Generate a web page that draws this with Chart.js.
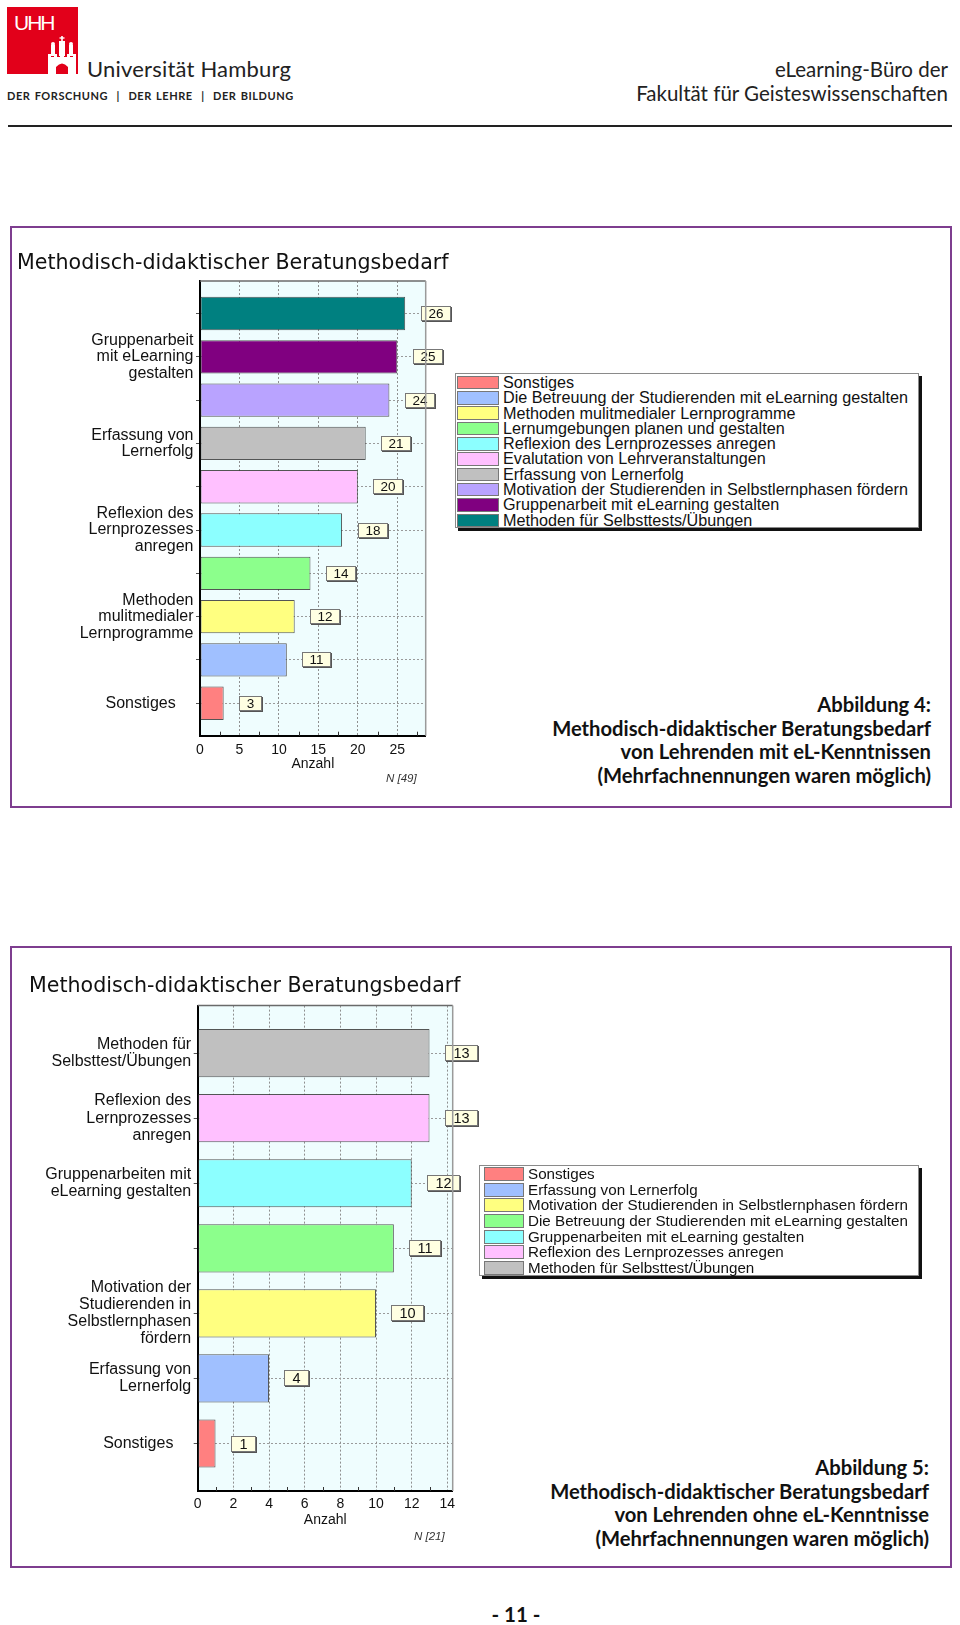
<!DOCTYPE html>
<html lang="de">
<head>
<meta charset="utf-8">
<title>Methodisch-didaktischer Beratungsbedarf</title>
<script src="https://cdn.jsdelivr.net/npm/chart.js@4.4.1/dist/chart.umd.min.js"></script>
<style>
  html, body { margin: 0; padding: 0; background: #fff; }
  body { position: relative; width: 960px; height: 1625px; overflow: hidden; font-family: 'Liberation Sans', Arial, sans-serif; color: #111; }
  .abs { position: absolute; }
  .logo { left: 7px; top: 7px; width: 71px; height: 67px; background: #e2001a; }
  .uhh { left: 7px; top: 4px; color: #fff; font: 21px 'Liberation Sans', Arial, sans-serif; letter-spacing: -2px; line-height: 24px; }
  .uni { left: 87px; top: 56px; font: 22px Lato, 'Open Sans', sans-serif; line-height: 26px; color: #222; letter-spacing: 0.2px; }
  .motto { left: 7px; top: 88px; font: bold 11px Lato, 'Open Sans', sans-serif; line-height: 15px; color: #222; letter-spacing: 0.55px; word-spacing: 1px; }
  .rhead { right: 12px; top: 57px; text-align: right; font: 20.5px Lato, 'Open Sans', sans-serif; line-height: 24px; color: #222; }
  .rule { left: 8px; top: 125px; width: 944px; height: 2px; background: #222; }
  .frame { border: 2px solid #7e3d8f; box-sizing: border-box; }
  .caption { text-align: right; font: bold 20.2px Lato, 'Open Sans', sans-serif; line-height: 23.5px; color: #111; }
  .nlab { font: italic 11.5px 'Liberation Sans', Arial, sans-serif; color: #333; line-height: 14px; }
  .legend { background: #fff; border: 1px solid #8a8a8a; box-shadow: 3px 3px 0 #111; box-sizing: border-box; }
  .legend .row { display: flex; align-items: center; white-space: nowrap; }
  .legend .sw { display: inline-block; box-sizing: border-box; border: 1px solid #777; flex: none; }
  .pagenum { left: 436px; width: 160px; top: 1602px; text-align: center; font: bold 20.5px Lato, 'Open Sans', sans-serif; line-height: 24px; color: #111; }
  canvas { position: absolute; }
</style>
</head>
<body>
<!-- header -->
<div class="abs logo">
  <div class="abs uhh">UHH</div>
  <svg class="abs" style="left:0;top:0" width="71" height="67" viewBox="0 0 71 67">
    <g fill="#fff">
      <rect x="44" y="38" width="4" height="11"/>
      <rect x="52" y="34" width="6" height="15"/>
      <rect x="54.2" y="29" width="1.6" height="5"/>
      <rect x="52.5" y="30.3" width="5" height="1.4"/>
      <rect x="62" y="38" width="4" height="11"/>
      <circle cx="46" cy="37" r="2"/>
      <circle cx="64" cy="37" r="2"/>
      <rect x="41" y="50" width="28" height="17"/>
      <rect x="41" y="47" width="3" height="3"/><rect x="47" y="47" width="3" height="3"/>
      <rect x="53" y="47" width="4" height="3"/><rect x="60" y="47" width="3" height="3"/><rect x="66" y="47" width="3" height="3"/>
    </g>
    <path d="M49 67 L49 60 Q55 53 61 60 L61 67 Z" fill="#e2001a"/>
  </svg>
</div>
<div class="abs uni">Universität Hamburg</div>
<div class="abs motto">DER FORSCHUNG&nbsp; | &nbsp;DER LEHRE&nbsp; | &nbsp;DER BILDUNG</div>
<div class="abs rhead">eLearning-Büro der<br>Fakultät für Geisteswissenschaften</div>
<div class="abs rule"></div>

<!-- figure 4 -->
<div class="abs frame" style="left:10px;top:226px;width:942px;height:582px;"></div>
<canvas id="c1" width="440" height="560" style="left:12px;top:229px;"></canvas>
<div class="abs legend" id="lg1" style="left:455px;top:373px;width:464px;height:155px;padding:1px 0 0 1px;"></div>
<div class="abs nlab" style="left:386px;top:771px;">N [49]</div>
<div class="abs caption" style="right:29px;top:693px;">Abbildung 4:<br>Methodisch-didaktischer Beratungsbedarf<br>von Lehrenden mit eL-Kenntnissen<br>(Mehrfachnennungen waren möglich)</div>

<!-- figure 5 -->
<div class="abs frame" style="left:10px;top:946px;width:942px;height:622px;"></div>
<canvas id="c2" width="470" height="600" style="left:12px;top:950px;"></canvas>
<div class="abs legend" id="lg2" style="left:479px;top:1165px;width:440px;height:111px;padding:0 0 0 4px;"></div>
<div class="abs nlab" style="left:414px;top:1529px;">N [21]</div>
<div class="abs caption" style="right:31px;top:1456px;">Abbildung 5:<br>Methodisch-didaktischer Beratungsbedarf<br>von Lehrenden ohne eL-Kenntnisse<br>(Mehrfachnennungen waren möglich)</div>

<div class="abs pagenum">- 11 -</div>

<script>
// ---------- data: figure 4 (Lehrende mit eL-Kenntnissen) ----------
const title1 = 'Methodisch-didaktischer Beratungsbedarf';
const categories1 = [
  'Methoden für Selbsttests/Übungen',
  'Gruppenarbeit mit eLearning gestalten',
  'Motivation der Studierenden in Selbstlernphasen fördern',
  'Erfassung von Lernerfolg',
  'Evalutation von Lehrveranstaltungen',
  'Reflexion des Lernprozesses anregen',
  'Lernumgebungen planen und gestalten',
  'Methoden mulitmedialer Lernprogramme',
  'Die Betreuung der Studierenden mit eLearning gestalten',
  'Sonstiges'
];
const values1 = [26, 25, 24, 21, 20, 18, 14, 12, 11, 3];
const colors1 = ['#008080', '#800080', '#b9a3ff', '#c0c0c0', '#ffc0ff', '#8cffff', '#8cff8c', '#ffff80', '#a0c0ff', '#ff8080'];
const tickLabels1 = [
  '',
  ['Gruppenarbeit', 'mit eLearning', 'gestalten'],
  '',
  ['Erfassung von', 'Lernerfolg'],
  '',
  ['Reflexion des', 'Lernprozesses', 'anregen'],
  '',
  ['Methoden', 'mulitmedialer', 'Lernprogramme'],
  '',
  'Sonstiges'
];
const xTicks1 = { max: 28.6, step: 5 };
const xTitle1 = 'Anzahl';

// ---------- data: figure 5 (Lehrende ohne eL-Kenntnisse) ----------
const title2 = 'Methodisch-didaktischer Beratungsbedarf';
const categories2 = [
  'Methoden für Selbsttest/Übungen',
  'Reflexion des Lernprozesses anregen',
  'Gruppenarbeiten mit eLearning gestalten',
  'Die Betreuung der Studierenden mit eLearning gestalten',
  'Motivation der Studierenden in Selbstlernphasen fördern',
  'Erfassung von Lernerfolg',
  'Sonstiges'
];
const values2 = [13, 13, 12, 11, 10, 4, 1];
const colors2 = ['#c0c0c0', '#ffc0ff', '#8cffff', '#8cff8c', '#ffff80', '#a0c0ff', '#ff8080'];
const tickLabels2 = [
  ['Methoden für', 'Selbsttest/Übungen'],
  ['Reflexion des', 'Lernprozesses', 'anregen'],
  ['Gruppenarbeiten mit', 'eLearning gestalten'],
  '',
  ['Motivation der', 'Studierenden in', 'Selbstlernphasen', 'fördern'],
  ['Erfassung von', 'Lernerfolg'],
  'Sonstiges'
];
const xTicks2 = { max: 14.3, step: 2 };
const xTitle2 = 'Anzahl';

// ---------- plugins ----------
const plotFrame = {
  id: 'plotFrame',
  beforeDraw(chart) {
    const { ctx, chartArea: a } = chart;
    ctx.save();
    ctx.fillStyle = '#effdfe';
    ctx.fillRect(a.left, a.top, a.right - a.left, a.bottom - a.top);
    ctx.restore();
  },
  afterDraw(chart, args, opts) {
    const { ctx, chartArea: a } = chart;
    ctx.save();
    ctx.strokeStyle = '#6a6a6a';
    ctx.lineWidth = 1.5;
    ctx.beginPath();
    ctx.moveTo(a.left, a.top);
    ctx.lineTo(a.right, a.top);
    ctx.stroke();
    ctx.strokeStyle = '#9a9a9a';
    ctx.beginPath();
    ctx.moveTo(a.right, a.top);
    ctx.lineTo(a.right, a.bottom);
    ctx.stroke();
    // minor tick marks on the value axis (half a major step)
    const xs = chart.scales.x;
    const step = opts.step;
    ctx.strokeStyle = '#333';
    ctx.lineWidth = 1;
    ctx.beginPath();
    for (let v = step / 2; v < xs.max; v += step) {
      const px = Math.round(xs.getPixelForValue(v)) + 0.5;
      ctx.moveTo(px, a.bottom);
      ctx.lineTo(px, a.bottom - 4);
    }
    ctx.stroke();
    ctx.restore();
  }
};

const valueBoxes = {
  id: 'valueBoxes',
  afterDatasetsDraw(chart, args, opts) {
    const { ctx } = chart;
    const meta = chart.getDatasetMeta(0);
    const ds = chart.data.datasets[0];
    ctx.save();
    ctx.font = opts.size + 'px "Liberation Sans", Arial, sans-serif';
    meta.data.forEach((bar, i) => {
      const txt = String(ds.data[i].x);
      const w = Math.round(ctx.measureText(txt).width + 2 * opts.padX);
      const h = opts.h;
      const x = Math.round(bar.x + opts.gap);
      const y = Math.round(bar.y - h / 2);
      ctx.fillStyle = '#555';
      ctx.fillRect(x + 1, y + 1, w, h);
      ctx.fillStyle = '#ffffe2';
      ctx.fillRect(x, y, w, h);
      ctx.strokeStyle = '#777';
      ctx.lineWidth = 1;
      ctx.strokeRect(x + 0.5, y + 0.5, w - 1, h - 1);
      ctx.fillStyle = '#111';
      ctx.textAlign = 'center';
      ctx.textBaseline = 'middle';
      ctx.fillText(txt, x + w / 2, y + h / 2 + 0.5);
    });
    ctx.restore();
  }
};

const FONT = "'Liberation Sans', Arial, sans-serif";

function makeChart(id, cfg) {
  const n = cfg.values.length;
  return new Chart(document.getElementById(id), {
    type: 'bar',
    plugins: [plotFrame, valueBoxes],
    data: {
      datasets: [{
        data: cfg.values.map((v, i) => ({ x: v, y: i })),
        backgroundColor: cfg.colors,
        borderColor: 'rgba(55,55,55,0.85)',
        borderWidth: 1,
        borderSkipped: false,
        categoryPercentage: 1,
        barPercentage: cfg.barPct
      }]
    },
    options: {
      indexAxis: 'y',
      responsive: false,
      animation: false,
      devicePixelRatio: 1,
      layout: { padding: cfg.pad },
      plugins: {
        legend: { display: false },
        tooltip: { enabled: false },
        title: {
          display: true,
          text: cfg.title,
          align: 'start',
          color: '#111',
          font: { family: "'DejaVu Sans', Verdana, sans-serif", size: 20.6, weight: 'normal', lineHeight: 1.2 },
          padding: cfg.titlePad
        },
        plotFrame: { step: cfg.xTicks.step },
        valueBoxes: cfg.boxes
      },
      scales: {
        x: {
          type: 'linear',
          position: 'bottom',
          min: 0,
          max: cfg.xTicks.max,
          afterFit: s => { s.height = 40; },
          ticks: { stepSize: cfg.xTicks.step, includeBounds: false, padding: cfg.xTickPad, color: '#111', font: { family: FONT, size: 14 }, maxRotation: 0 },
          grid: { color: '#8f8f8f', lineWidth: 1, drawTicks: false },
          border: { display: true, color: '#000', width: 2, dash: [2, 2] },
          title: { display: true, text: cfg.xTitle, color: '#111', font: { family: FONT, size: 14 }, padding: { top: 0, bottom: cfg.xTitlePadB } }
        },
        y: {
          type: 'linear',
          position: 'left',
          reverse: true,
          offset: false,
          min: -cfg.edge,
          max: n - 1 + cfg.edge,
          afterBuildTicks: s => { s.ticks = cfg.values.map((_, i) => ({ value: i })); },
          afterFit: s => { s.width = cfg.yWidth; },
          ticks: {
            autoSkip: false,
            padding: 2.5,
            color: '#111',
            font: { family: FONT, size: 16, lineHeight: cfg.yLineHeight },
            callback: v => {
              const l = cfg.tickLabels[v];
              return (typeof l === 'string' && l) ? l + '    ' : l;
            }
          },
          grid: { offset: false, color: '#9a9a9a', lineWidth: 1, drawTicks: true, tickLength: 4, tickColor: '#555', tickWidth: 1 },
          border: { display: true, color: '#000', width: 2, dash: [2, 2] }
        },
        // empty spacer on the right, so the plot ends where the original does
        spacer: {
          type: 'linear',
          position: 'right',
          display: true,
          grid: { display: false, drawTicks: false },
          ticks: { display: false },
          border: { display: false },
          afterFit: s => { s.width = cfg.rightGap; }
        }
      }
    }
  });
}

makeChart('c1', {
  values: values1, colors: colors1, tickLabels: tickLabels1, title: title1,
  xTicks: xTicks1, xTitle: xTitle1,
  barPct: 0.77, edge: 0.75,
  pad: { left: 5, right: 0, top: 0, bottom: 13.3 },
  rightGap: 26.3,
  titlePad: { top: 22.6, bottom: 4.7 },
  yWidth: 183, yLineHeight: 1.03,
  xTickPad: 5.9, xTitlePadB: 3.6,
  boxes: { size: 13.5, padX: 7.5, h: 15, gap: 15.5 }
});

makeChart('c2', {
  values: values2, colors: colors2, tickLabels: tickLabels2, title: title2,
  xTicks: xTicks2, xTitle: xTitle2,
  barPct: 0.74, edge: 0.73,
  pad: { left: 17, right: 0, top: 0, bottom: 19 },
  rightGap: 29.3,
  titlePad: { top: 24.3, bottom: 6.6 },
  yWidth: 168.7, yLineHeight: 1.07,
  xTickPad: 4.9, xTitlePadB: 2.3,
  boxes: { size: 14.5, padX: 8.5, h: 16, gap: 15 }
});

// ---------- HTML legends (built from the same arrays, reversed like the original) ----------
function buildLegend(id, cats, cols, o) {
  const el = document.getElementById(id);
  for (let i = cats.length - 1; i >= 0; i--) {
    const row = document.createElement('div');
    row.className = 'row';
    row.style.height = o.rowH + 'px';
    row.style.font = o.font + "px 'Liberation Sans', Arial, sans-serif";
    row.style.lineHeight = o.rowH + 'px';
    const sw = document.createElement('span');
    sw.className = 'sw';
    sw.style.width = o.swW + 'px';
    sw.style.height = o.swH + 'px';
    sw.style.background = cols[i];
    sw.style.marginRight = o.gap + 'px';
    const tx = document.createElement('span');
    tx.textContent = cats[i];
    row.appendChild(sw);
    row.appendChild(tx);
    el.appendChild(row);
  }
}
buildLegend('lg1', categories1, colors1, { rowH: 15.3, font: 16.2, swW: 42, swH: 13.5, gap: 4 });
buildLegend('lg2', categories2, colors2, { rowH: 15.7, font: 15.2, swW: 40, swH: 14, gap: 4 });
</script>
</body>
</html>
